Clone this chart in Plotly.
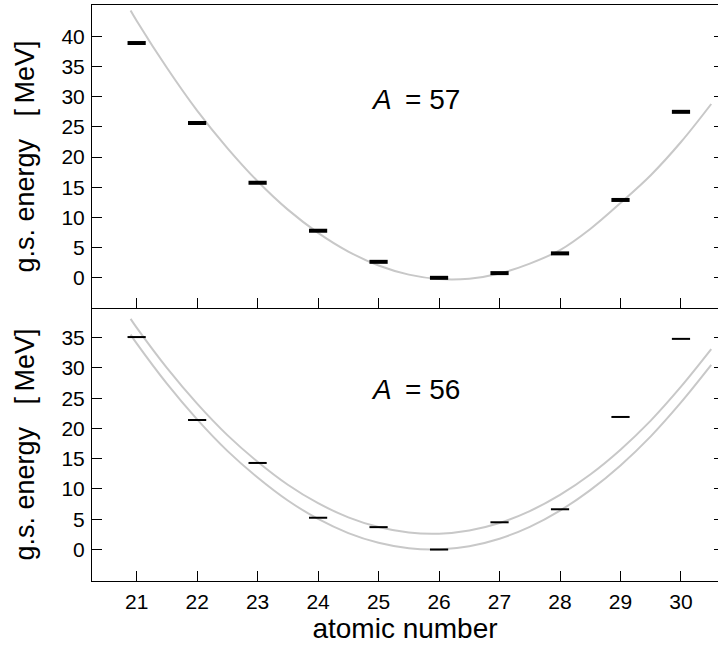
import plotly.graph_objects as go

# ---- data ----
Z = [21, 22, 23, 24, 25, 26, 27, 28, 29, 30]
E57 = [38.9, 25.65, 15.75, 7.8, 2.65, 0.0, 0.78, 4.05, 12.9, 27.5]
E56 = [35.1, 21.4, 14.3, 5.25, 3.7, 0.0, 4.5, 6.65, 21.9, 34.8]

# smooth (mass-parabola) curves
Zc = [20.9, 21.0, 21.5, 22.0, 22.5, 23.0, 23.5, 24.0, 24.5, 25.0, 25.5,
      26.0, 26.5, 27.0, 27.5, 28.0, 28.5, 29.0, 29.5, 30.0, 30.5]
C57 = [44.3, 42.6, 34.8, 27.7, 21.5, 16.0, 11.3, 7.45, 4.35, 2.04, 0.53,
       -0.2, -0.14, 0.72, 2.36, 4.6, 8.1, 12.4, 17.0, 22.5, 28.8]
C56_low = [35.5, 34.05, 27.4, 21.5, 16.3, 11.9, 8.1, 5.05, 2.72, 1.11, 0.21,
           0.02, 0.55, 1.79, 3.75, 6.43, 9.82, 13.9, 18.7, 24.3, 30.5]
C56_up = [38.1, 36.65, 30.0, 24.1, 18.9, 14.5, 10.7, 7.65, 5.32, 3.71, 2.81,
          2.62, 3.15, 4.39, 6.35, 9.03, 12.4, 16.5, 21.3, 26.9, 33.1]

xticks = [21, 22, 23, 24, 25, 26, 27, 28, 29, 30]
yticks_top = [0, 5, 10, 15, 20, 25, 30, 35, 40]
yticks_bot = [0, 5, 10, 15, 20, 25, 30, 35]

FONT = "Liberation Sans, Arial, Helvetica, sans-serif"
CURVE = "#c8c8c8"

fig = go.Figure()

# top panel (A = 57)
fig.add_trace(go.Scatter(x=Zc, y=C57, mode="lines", line=dict(color=CURVE, width=2, shape="spline"),
                         xaxis="x", yaxis="y", hoverinfo="skip"))
fig.add_trace(go.Scatter(x=Z, y=E57, mode="markers",
                         marker=dict(symbol="line-ew", size=13, line=dict(color="black", width=4)),
                         xaxis="x", yaxis="y"))

# bottom panel (A = 56)
fig.add_trace(go.Scatter(x=Zc, y=C56_up, mode="lines", line=dict(color=CURVE, width=2, shape="spline"),
                         xaxis="x2", yaxis="y2", hoverinfo="skip"))
fig.add_trace(go.Scatter(x=Zc, y=C56_low, mode="lines", line=dict(color=CURVE, width=2, shape="spline"),
                         xaxis="x2", yaxis="y2", hoverinfo="skip"))
fig.add_trace(go.Scatter(x=Z, y=E56, mode="markers",
                         marker=dict(symbol="line-ew", size=13, line=dict(color="black", width=2)),
                         xaxis="x2", yaxis="y2"))

# empty traces to carry the right-side tick axes
fig.add_trace(go.Scatter(x=[], y=[], xaxis="x", yaxis="y3", showlegend=False))
fig.add_trace(go.Scatter(x=[], y=[], xaxis="x2", yaxis="y4", showlegend=False))

split = 273 / 576
xr = [20.262, 30.612]
yr_top = [-5.0, 45.2]
yr_bot = [-5.2, 39.9]

tickfont = dict(family=FONT, size=21, color="black")
common_y = dict(showline=True, linecolor="black", linewidth=1, ticks="inside", ticklen=10,
                tickwidth=1, tickcolor="black", showgrid=False, zeroline=False,
                tickfont=tickfont, ticklabelstandoff=2)
ytitle = dict(text="g.s. energy\u00a0\u00a0\u00a0[\u2009MeV]", font=dict(family=FONT, size=27, color="black"),
              standoff=18)

fig.update_layout(
    width=718, height=647,
    margin=dict(l=92, r=0, t=5, b=66),
    paper_bgcolor="white", plot_bgcolor="white",
    showlegend=False,
    xaxis=dict(domain=[0, 1], anchor="y", range=xr, tickvals=xticks, showticklabels=False,
               showline=True, linecolor="black", linewidth=1, mirror=True,
               ticks="inside", ticklen=10, tickwidth=1, tickcolor="black",
               showgrid=False, zeroline=False),
    yaxis=dict(domain=[split, 1], anchor="x", range=yr_top, tickvals=yticks_top, title=ytitle, **common_y),
    xaxis2=dict(domain=[0, 1], anchor="y2", range=xr, tickvals=xticks,
                showline=True, linecolor="black", linewidth=1,
                ticks="inside", ticklen=10, tickwidth=1, tickcolor="black",
                showgrid=False, zeroline=False, tickfont=tickfont, ticklabelstandoff=2,
                title=dict(text="atomic number", font=dict(family=FONT, size=28, color="black"), standoff=0)),
    yaxis2=dict(domain=[0, split], anchor="x2", range=yr_bot, tickvals=yticks_bot, title=ytitle, **common_y),
    yaxis3=dict(overlaying="y", side="right", anchor="x", range=yr_top, tickvals=yticks_top,
                showticklabels=False, showline=False, ticks="inside", ticklen=4, tickwidth=1,
                tickcolor="black", showgrid=False, zeroline=False),
    yaxis4=dict(overlaying="y2", side="right", anchor="x2", range=yr_bot, tickvals=yticks_bot,
                showticklabels=False, showline=False, ticks="inside", ticklen=4, tickwidth=1,
                tickcolor="black", showgrid=False, zeroline=False),
    annotations=[
        dict(x=25.61, y=29.6, xref="x", yref="y", text="<i>A</i>\u00a0\u2009= 57", showarrow=False,
             font=dict(family=FONT, size=28, color="black"), xanchor="center", yanchor="middle"),
        dict(x=25.61, y=26.5, xref="x2", yref="y2", text="<i>A</i>\u00a0\u2009= 56", showarrow=False,
             font=dict(family=FONT, size=28, color="black"), xanchor="center", yanchor="middle"),
    ],
)

fig.write_html("out.html", config={"displayModeBar": False},
               post_script="document.body.style.margin='0px';document.body.style.overflow='hidden';")
